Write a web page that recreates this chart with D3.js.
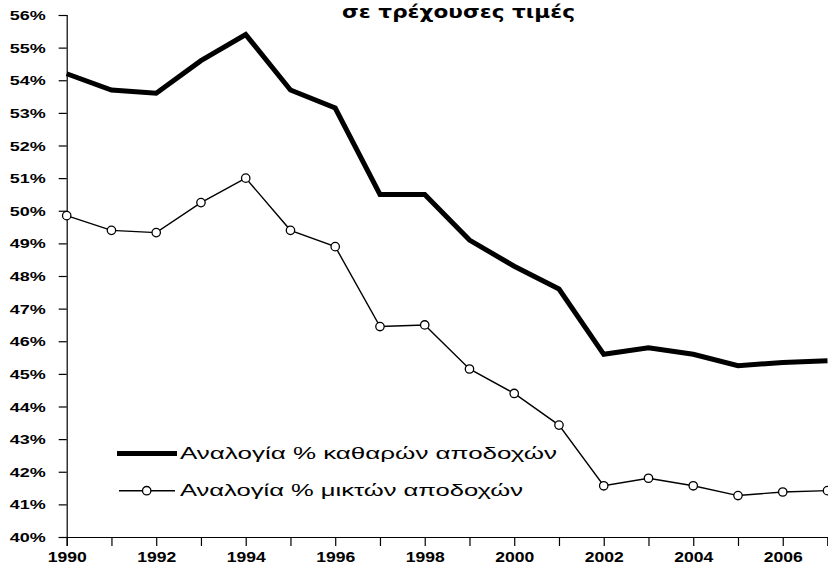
<!DOCTYPE html>
<html>
<head>
<meta charset="utf-8">
<script src="https://cdn.jsdelivr.net/npm/d3@7"></script>
<style>
  body { margin: 0; background: #fff; }
  svg { display: block; }
</style>
</head>
<body>
<svg id="chart" width="828" height="569"></svg>
<script>
// --- Daten ---
const years = [1990, 1991, 1992, 1993, 1994, 1995, 1996, 1997, 1998, 1999,
               2000, 2001, 2002, 2003, 2004, 2005, 2006, 2007];
// Αναλογία % καθαρών αποδοχών
const netShare = [54.2, 53.7, 53.6, 54.6, 55.4, 53.7, 53.15, 50.5, 50.5, 49.1,
                  48.3, 47.6, 45.6, 45.8, 45.6, 45.25, 45.35, 45.4];
// Αναλογία % μικτών αποδοχών
const grossShare = [49.85, 49.4, 49.33, 50.25, 51.0, 49.4, 48.9, 46.45, 46.5, 45.15,
                    44.4, 43.43, 41.57, 41.8, 41.57, 41.27, 41.38, 41.42];
const yTicks = [40, 41, 42, 43, 44, 45, 46, 47, 48, 49, 50, 51, 52, 53, 54, 55, 56];
const xLabelYears = [1990, 1992, 1994, 1996, 1998, 2000, 2002, 2004, 2006];
const legendLabels = ['Αναλογία % καθαρών αποδοχών', 'Αναλογία % μικτών αποδοχών'];
const titleText = 'σε τρέχουσες τιμές';

// --- Skalen ---
const svg = d3.select('#chart');
const x = d3.scaleLinear().domain([1990, 2007]).range([66.7, 827.5]);
const y = d3.scaleLinear().domain([40, 56]).range([537, 15]);

const labelFont = '"Liberation Sans", Arial, sans-serif';

// Titel
svg.append('text')
    .attr('x', 342).attr('y', 17.5)
    .attr('textLength', 233).attr('lengthAdjust', 'spacingAndGlyphs')
    .style('font-family', '"DejaVu Sans", sans-serif')
    .style('font-weight', 'bold')
    .style('font-size', '18px')
    .text(titleText);

// y-Achse
const yAxis = svg.append('g')
    .attr('transform', 'translate(66.7,0)')
    .call(d3.axisLeft(y).tickValues(yTicks).tickSize(8).tickPadding(0)
        .tickFormat(d => d + '%'));
yAxis.select('.domain').attr('stroke', '#000').attr('stroke-width', 1.2);
yAxis.selectAll('.tick line').attr('stroke', '#000').attr('stroke-width', 1.2);
yAxis.selectAll('.tick text')
    .attr('x', -21).attr('dy', '0.35em')
    .attr('textLength', 36).attr('lengthAdjust', 'spacingAndGlyphs')
    .style('font-family', labelFont)
    .style('font-weight', 'bold')
    .style('font-size', '13px')
    .attr('fill', '#000');

// x-Achse
const xAxis = svg.append('g')
    .attr('transform', 'translate(0,537)')
    .call(d3.axisBottom(x).tickValues(years).tickSize(9).tickPadding(0)
        .tickFormat(d => xLabelYears.includes(d) ? String(d) : ''));
xAxis.select('.domain').attr('stroke', '#000').attr('stroke-width', 1.2);
xAxis.selectAll('.tick line').attr('stroke', '#000').attr('stroke-width', 1.2);
xAxis.selectAll('.tick text')
    .attr('y', 25).attr('dy', 0)
    .filter(d => xLabelYears.includes(d))
    .attr('textLength', 39).attr('lengthAdjust', 'spacingAndGlyphs')
    .style('font-family', labelFont)
    .style('font-weight', 'bold')
    .style('font-size', '14px')
    .attr('fill', '#000');

// Linien
const line = d3.line().x((d, i) => x(years[i])).y(d => y(d));

svg.append('path')
    .datum(netShare)
    .attr('d', line)
    .attr('fill', 'none')
    .attr('stroke', '#000')
    .attr('stroke-width', 5)
    .attr('stroke-linejoin', 'miter');

svg.append('path')
    .datum(grossShare)
    .attr('d', line)
    .attr('fill', 'none')
    .attr('stroke', '#000')
    .attr('stroke-width', 1.4);

svg.selectAll('.gross-dot')
    .data(grossShare)
    .join('circle')
    .attr('class', 'gross-dot')
    .attr('cx', (d, i) => x(years[i]))
    .attr('cy', d => y(d))
    .attr('r', 4.2)
    .attr('fill', '#fff')
    .attr('stroke', '#000')
    .attr('stroke-width', 1.3);

// Legende
const legend = svg.append('g');
legend.append('line')
    .attr('x1', 117).attr('x2', 177).attr('y1', 453.5).attr('y2', 453.5)
    .attr('stroke', '#000').attr('stroke-width', 5);
legend.append('text')
    .attr('x', 180).attr('y', 459)
    .attr('textLength', 377).attr('lengthAdjust', 'spacingAndGlyphs')
    .style('font-family', labelFont)
    .style('font-size', '16px')
    .text(legendLabels[0]);

legend.append('line')
    .attr('x1', 119).attr('x2', 175).attr('y1', 490.7).attr('y2', 490.7)
    .attr('stroke', '#000').attr('stroke-width', 1.4);
legend.append('circle')
    .attr('cx', 146.7).attr('cy', 490.7).attr('r', 4.2)
    .attr('fill', '#fff').attr('stroke', '#000').attr('stroke-width', 1.3);
legend.append('text')
    .attr('x', 180).attr('y', 496)
    .attr('textLength', 343).attr('lengthAdjust', 'spacingAndGlyphs')
    .style('font-family', labelFont)
    .style('font-size', '16px')
    .text(legendLabels[1]);
</script>
</body>
</html>
